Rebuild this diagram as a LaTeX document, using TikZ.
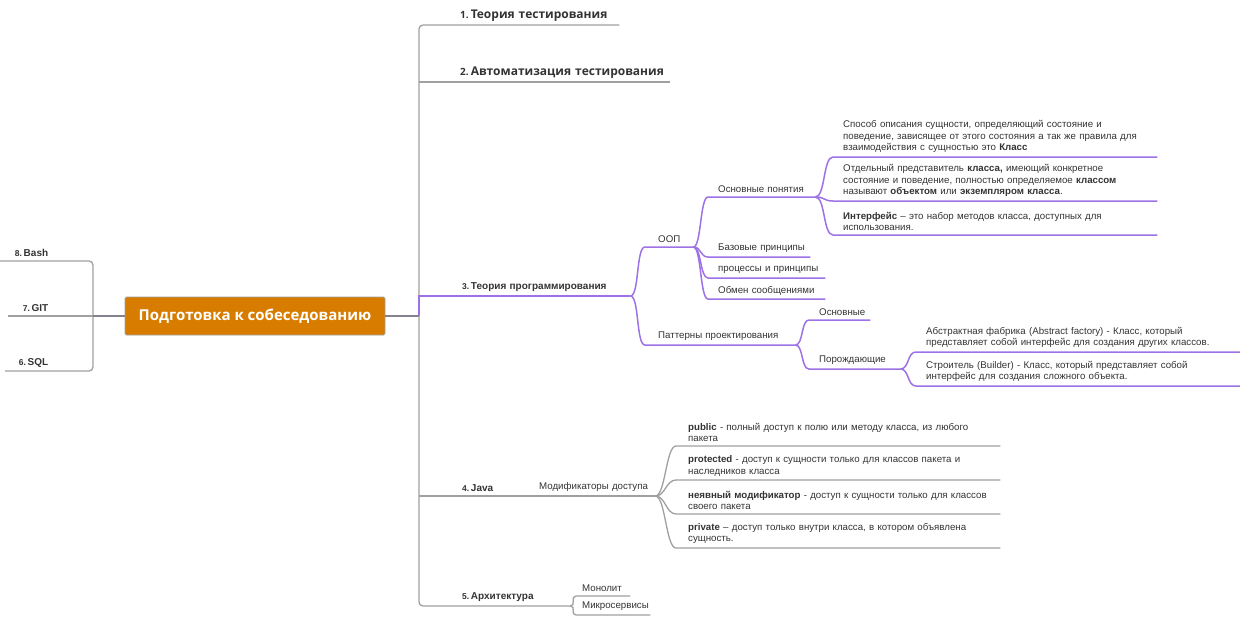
\documentclass[tikz,border=0pt]{standalone}
\usepackage{fontspec}
\setmainfont{Liberation Sans}
\newfontfamily\headfont{Open Sans}
\usepackage{tikz}

\definecolor{rootorange}{HTML}{D87C00}
\definecolor{linegrey}{HTML}{A0A0A0}
\definecolor{rootline}{HTML}{85818F}
\definecolor{oopviolet}{HTML}{9C72E6}
\definecolor{textgrey}{HTML}{333333}

\newcommand{\topicnr}[2][8.5]{{\fontsize{#1}{#1}\selectfont #2.}\,}

\begin{document}
\begin{tikzpicture}[x=1pt,y=-1pt,
  gline/.style={draw=linegrey,line width=1.3pt},
  vline/.style={draw=oopviolet,line width=1.5pt},
  leaf/.style={anchor=south west,inner xsep=0pt,inner ysep=3.8pt,
    align=left,text width=#1,text=textgrey,font=\fontsize{9.7}{11.5}\selectfont},
  topic/.style={leaf=#1,font=\fontsize{10}{12}\selectfont\bfseries},
  bigtopic/.style={leaf=#1,font=\headfont\fontsize{12}{14}\selectfont\bfseries},
  root/.style={fill=rootorange,draw=linegrey,line width=0.8pt,rounded corners=1.5pt,
    minimum width=260pt,minimum height=38pt,text=white,
    font=\headfont\bfseries\fontsize{15}{18}\selectfont}]

\useasboundingbox (0,0) rectangle (1240,616);

% centre
\node[root] (root) at (255,316) {Подготовка к собеседованию};
\coordinate (trunk) at (419,316);
\coordinate (ltrunk) at (93,316);

% left side
\node[topic=48,align=right] (l8) at (0,261) {\topicnr{8}Bash};
\node[topic=40,align=right] (l7) at (8,316) {\topicnr{7}GIT};
\node[topic=43,align=right] (l6) at (5,371) {\topicnr{6}SQL};

\draw[gline,rounded corners=4pt] (l8.south west) -| (ltrunk) |- (l6.south west);
\draw[gline] (l7.south west) -- (ltrunk);
\draw[rootline,line width=1.5pt] (root.west) -- (ltrunk);

% right side
\node[bigtopic=159] (b1) at (460,25) {\topicnr[10]{1}Теория тестирования};
\node[bigtopic=210] (b2) at (460,82) {\topicnr[10]{2}Автоматизация тестирования};
\node[topic=168] (b3) at (462,296) {\topicnr{3}Теория программирования};
\node[topic=68] (b4) at (462,496) {\topicnr{4}Java};
\node[topic=108] (b5) at (462,606) {\topicnr{5}Архитектура};

\draw[gline,rounded corners=4pt] (b1.south east) -| (trunk) |- (b5.south east);
\draw[gline] (trunk |- b2.south) -- (b2.south east);
\draw[vline] (trunk) |- (b3.south east);
\draw[rootline,line width=1.5pt] (root.east) -- (trunk);

% OOP
\node[leaf=35] (oop) at (658,247) {ООП};
\node[leaf=137] (pat) at (658,345) {Паттерны проектирования};
\foreach \n in {oop,pat}
  \draw[vline] (b3.south east) .. controls +(9,0) and +(-9,0) .. ([xshift=-13pt]\n.south west) -- (\n.south east);

\node[leaf=97] (osn) at (718,197) {Основные понятия};
\node[leaf=92] (baz) at (718,257) {Базовые принципы};
\node[leaf=107] (proc) at (718,278) {процессы и принципы};
\node[leaf=107] (obm) at (718,299) {Обмен сообщениями};
\foreach \n in {osn,baz,proc,obm}
  \draw[vline] (oop.south east) .. controls +(8,0) and +(-8,0) .. ([xshift=-10pt]\n.south west) -- (\n.south east);

\node[leaf=314] (d1) at (843,157) {Способ описания сущности, определяющий состояние и\\
  поведение, зависящее от этого состояния а так же правила для\\
  взаимодействия с сущностью это \textbf{Класс}};
\node[leaf=314] (d2) at (843,201) {Отдельный представитель \textbf{класса,} имеющий конкретное\\
  состояние и поведение, полностью определяемое \textbf{классом}\\
  называют \textbf{объектом} или \textbf{экземпляром класса}.};
\node[leaf=314] (d3) at (843,235) {\textbf{Интерфейс} – это набор методов класса, доступных для\\
  использования.};
\foreach \n in {d1,d2,d3}
  \draw[vline] (osn.south east) .. controls +(10,0) and +(-10,0) .. ([xshift=-10pt]\n.south west) -- (\n.south east);

% patterns
\node[leaf=51] (osn2) at (819,320) {Основные};
\node[leaf=81] (por) at (819,369) {Порождающие};
\foreach \n in {osn2,por}
  \draw[vline] (pat.south east) .. controls +(8,0) and +(-8,0) .. ([xshift=-10pt]\n.south west) -- (\n.south east);

\node[leaf=314] (af) at (926,352) {Абстрактная фабрика (Abstract factory) - Класс, который\\
  представляет собой интерфейс для создания других классов.};
\node[leaf=314] (bld) at (926,386) {Строитель (Builder) - Класс, который представляет собой\\
  интерфейс для создания сложного объекта.};
\foreach \n in {af,bld}
  \draw[vline] (por.south east) .. controls +(9,0) and +(-9,0) .. ([xshift=-10pt]\n.south west) -- (\n.south east);

% Java
\node[leaf=116] (mod) at (539,496) {Модификаторы доступа};
\draw[gline] (trunk |- b4.south) -- (mod.south east);

\node[leaf=312] (pub) at (688,446) {\textbf{public} - полный доступ к полю или методу класса, из любого\\
  пакета};
\node[leaf=312] (prot) at (688,480) {\textbf{protected} - доступ к сущности только для классов пакета и\\
  наследников класса};
\node[leaf=312] (nev) at (688,514) {\textbf{неявный модификатор} - доступ к сущности только для классов\\
  своего пакета};
\node[leaf=312] (priv) at (688,548) {\textbf{private} – доступ только внутри класса, в котором объявлена\\
  сущность.};
\foreach \n in {pub,prot,nev,priv}
  \draw[gline] (mod.south east) .. controls +(10,0) and +(-10,0) .. ([xshift=-12pt]\n.south west) -- (\n.south east);

% architecture
\node[leaf=48] (mon) at (582,596) {Монолит};
\node[leaf=68] (mik) at (582,615) {Микросервисы};
\foreach \n in {mon,mik}
  \draw[gline] (b5.south east) .. controls +(6,0) and +(-6,0) .. ([xshift=-6pt]\n.south west) -- (\n.south east);

\end{tikzpicture}
\end{document}
